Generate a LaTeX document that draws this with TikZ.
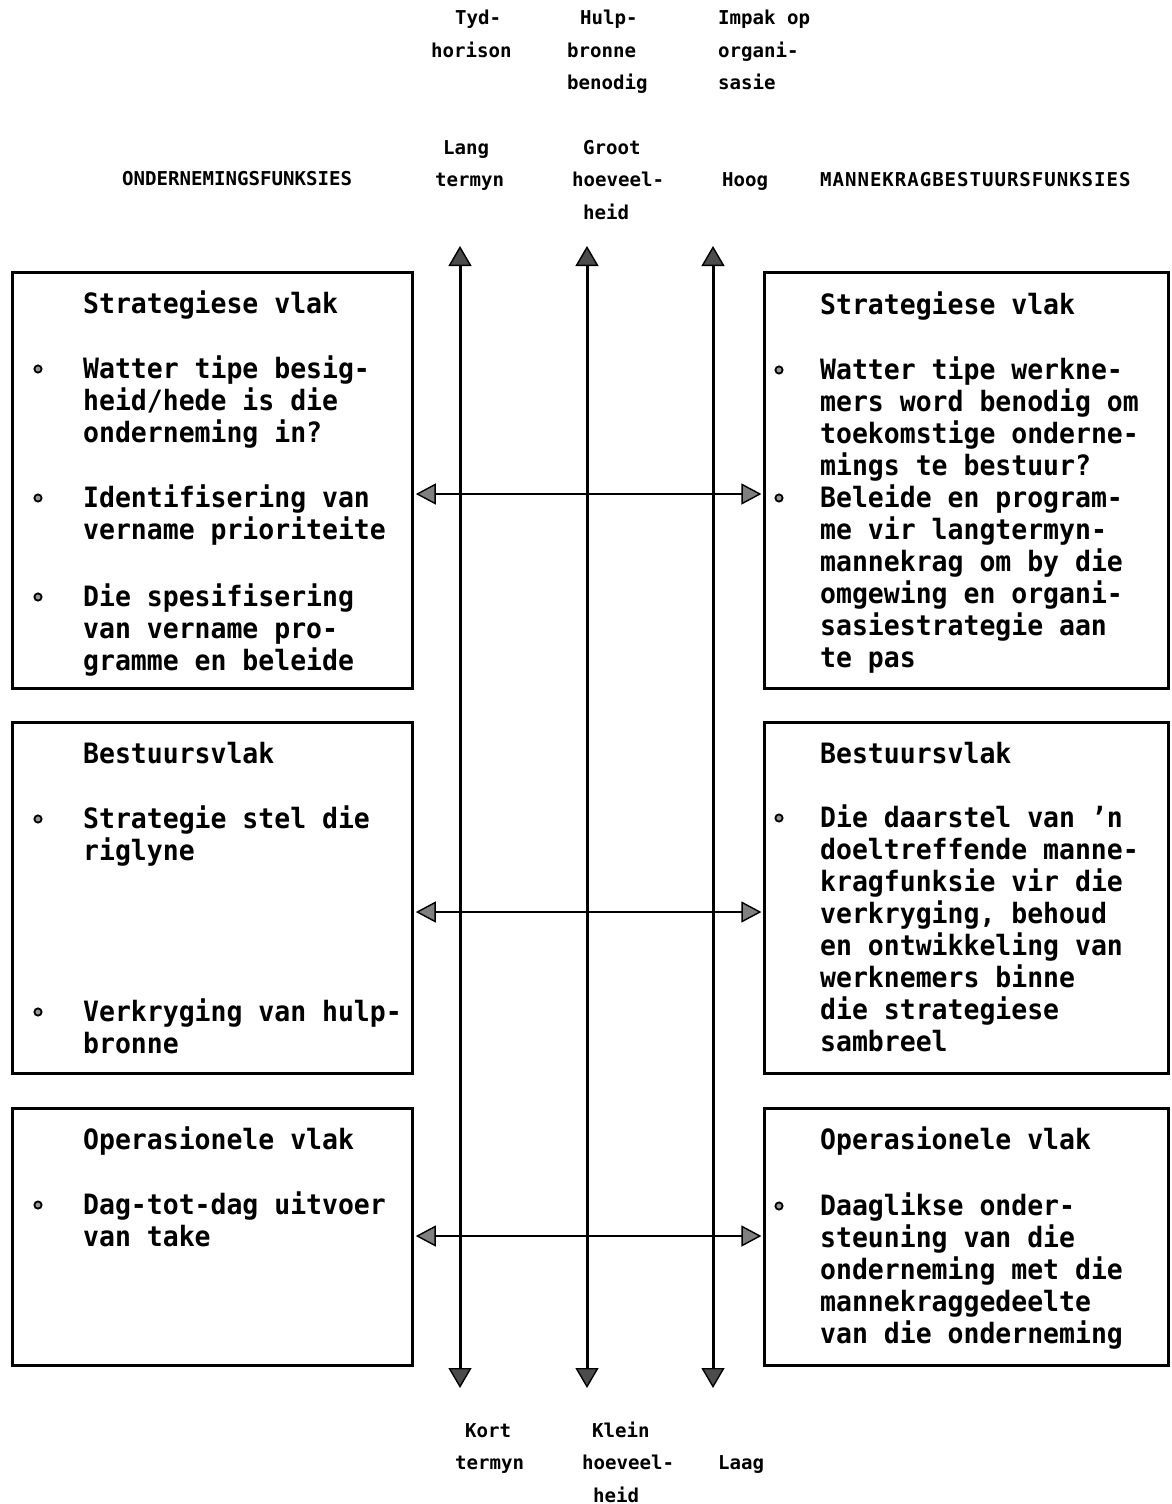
\documentclass[tikz,border=0pt]{standalone}
\usepackage{fontspec}
\usetikzlibrary{arrows.meta}
\newfontfamily\boxfont{DejaVu Sans Mono}[FakeStretch=0.945]
\newfontfamily\hdrfont{DejaVu Sans Mono}
% lines stacked in a \vtop, so the node's base is the first line's baseline
\newcommand\txtlines[1]{\vtop{\def\\{\egroup\hbox\bgroup}\hbox{#1}}}
\begin{document}
\begin{tikzpicture}[x=1pt,y=-1pt,
  panel/.style={draw, line width=3.2pt, inner sep=0pt, anchor=north west},
  boxtxt/.style={font=\boxfont\bfseries\fontsize{28}{32}\selectfont, anchor=base west, inner sep=0pt},
  boxtitle/.style={boxtxt},
  hdr/.style={font=\hdrfont\bfseries\fontsize{19.1}{32.5}\selectfont, anchor=base west, inner sep=0pt},
  vtip/.tip={Triangle[length=20pt,width=23pt,fill=black!70,line width=1.4pt]},
  htip/.tip={Triangle[length=20pt,width=21pt,fill=black!50,line width=1.4pt]},
  axis/.style={line width=3pt, vtip-vtip},
  link/.style={line width=2.8pt, htip-htip},
  dot/.style={draw, line width=1.8pt, fill=black!40}]
\useasboundingbox (0,0) rectangle (1172,1504);

% ---------- column headings ----------
\node[hdr] (tyd)   at (431,25) {\txtlines{\kern24pt Tyd-\\horison}};
\node[hdr] (hulp)  at (567,25) {\txtlines{\kern13pt Hulp-\\bronne\\benodig}};
\node[hdr] (impak) at (718,25) {\txtlines{Impak op\\organi-\\sasie}};
\node[hdr] (lang)  at (435,154) {\txtlines{\kern8pt Lang\\termyn}};
\node[hdr] (groot) at (572,154) {\txtlines{\kern11pt Groot\\hoeveel-\\\kern11pt heid}};
\node[hdr] (hoog)  at (722,186) {Hoog};
\node[hdr] (ondf)  at (122,185) {ONDERNEMINGSFUNKSIES};
\node[hdr] (manf)  at (820,186) {\addfontfeature{LetterSpace=5}MANNEKRAGBESTUURSFUNKSIES};
\node[hdr] (kort)  at (455,1437) {\txtlines{\kern10pt Kort\\termyn}};
\node[hdr] (klein) at (582,1437) {\txtlines{\kern10pt Klein\\hoeveel-\\\kern11pt heid}};
\node[hdr] (laag)  at (718,1469) {Laag};

% ---------- panels ----------
\node[panel, minimum width=400pt, minimum height=416pt] (L1) at (11,271) {};
\node[panel, minimum width=400pt, minimum height=351pt] (L2) at (11,721) {};
\node[panel, minimum width=400pt, minimum height=257pt] (L3) at (11,1107) {};
\node[panel, minimum width=404pt, minimum height=416pt] (R1) at (763,271) {};
\node[panel, minimum width=404pt, minimum height=351pt] (R2) at (763,721) {};
\node[panel, minimum width=404pt, minimum height=257pt] (R3) at (763,1107) {};

% ---------- left panel texts ----------
\node[boxtitle] (l1t) at (83,313) {Strategiese vlak};
\node[boxtxt] (l1a) at (83,378) {\txtlines{Watter tipe besig-\\heid/hede is die\\onderneming in?}};
\node[boxtxt] (l1b) at (83,507) {\txtlines{Identifisering van\\vername prioriteite}};
\node[boxtxt] (l1c) at (83,606) {\txtlines{Die spesifisering\\van vername pro-\\gramme en beleide}};
\draw[dot] (38,369) circle (3.6);
\draw[dot] (38,498) circle (3.6);
\draw[dot] (38,597) circle (3.6);

\node[boxtitle] (l2t) at (83,763) {Bestuursvlak};
\node[boxtxt] (l2a) at (83,828) {\txtlines{Strategie stel die\\riglyne}};
\node[boxtxt] (l2b) at (83,1021) {\txtlines{Verkryging van hulp-\\bronne}};
\draw[dot] (38,819) circle (3.6);
\draw[dot] (38,1012) circle (3.6);

\node[boxtitle] (l3t) at (83,1149) {Operasionele vlak};
\node[boxtxt] (l3a) at (83,1214) {\txtlines{Dag-tot-dag uitvoer\\van take}};
\draw[dot] (38,1205) circle (3.6);

% ---------- right panel texts ----------
\node[boxtitle] (r1t) at (820,314) {Strategiese vlak};
\node[boxtxt] (r1a) at (820,379) {\txtlines{Watter tipe werkne-\\mers word benodig om\\toekomstige onderne-\\mings te bestuur?}};
\node[boxtxt] (r1b) at (820,507) {\txtlines{Beleide en program-\\me vir langtermyn-\\mannekrag om by die\\omgewing en organi-\\sasiestrategie aan\\te pas}};
\draw[dot] (779,370) circle (3.6);
\draw[dot] (779,498) circle (3.6);

\node[boxtitle] (r2t) at (820,763) {Bestuursvlak};
\node[boxtxt] (r2a) at (820,827) {\txtlines{Die daarstel van ’n\\doeltreffende manne-\\kragfunksie vir die\\verkryging, behoud\\en ontwikkeling van\\werknemers binne\\die strategiese\\sambreel}};
\draw[dot] (779,818) circle (3.6);

\node[boxtitle] (r3t) at (820,1149) {Operasionele vlak};
\node[boxtxt] (r3a) at (820,1215) {\txtlines{Daaglikse onder-\\steuning van die\\onderneming met die\\mannekraggedeelte\\van die onderneming}};
\draw[dot] (779,1206) circle (3.6);

% ---------- vertical scales ----------
\coordinate (tydTop) at (460,246);  \coordinate (tydBot) at (460,1388);
\coordinate (hulpTop) at (587,246); \coordinate (hulpBot) at (587,1388);
\coordinate (impTop) at (713,246);  \coordinate (impBot) at (713,1388);
\draw[axis] (tydTop) -- (tydBot);
\draw[axis] (hulpTop) -- (hulpBot);
\draw[axis] (impTop) -- (impBot);

% ---------- links between matching levels ----------
\coordinate (y1) at (0,494);
\coordinate (y2) at (0,912);
\coordinate (y3) at (0,1236);
\draw[link] ([xshift=1.6pt]L1.east |- y1) -- ([xshift=-1.6pt]R1.west |- y1);
\draw[link] ([xshift=1.6pt]L2.east |- y2) -- ([xshift=-1.6pt]R2.west |- y2);
\draw[link] ([xshift=1.6pt]L3.east |- y3) -- ([xshift=-1.6pt]R3.west |- y3);
\end{tikzpicture}
\end{document}
